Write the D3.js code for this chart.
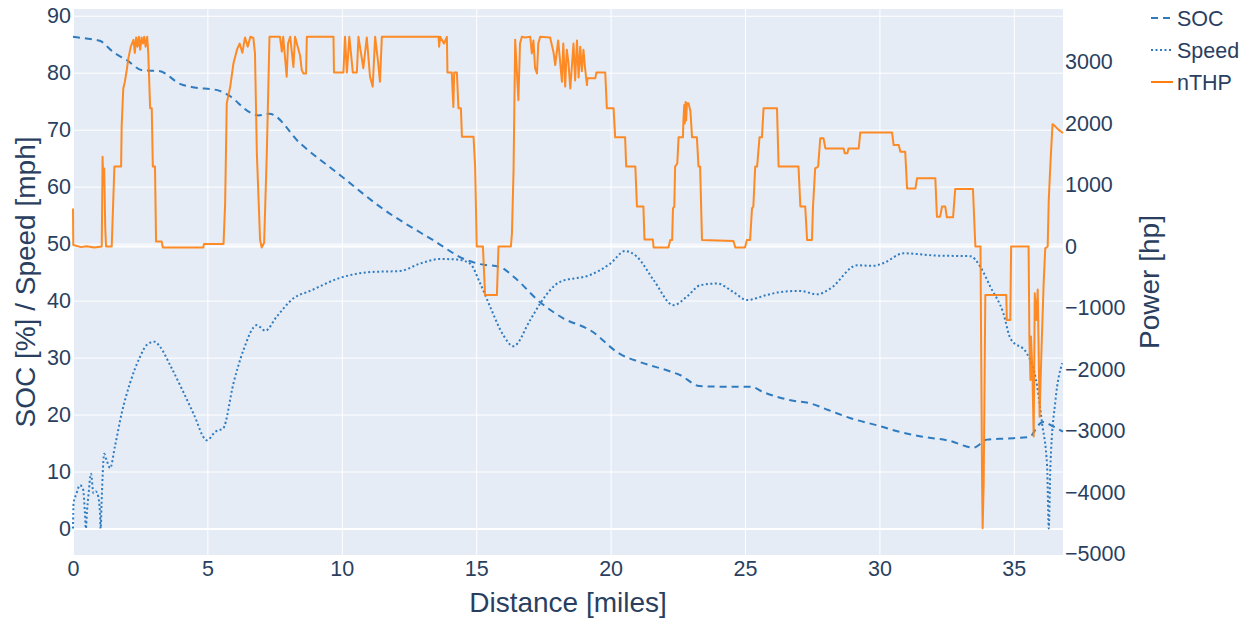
<!DOCTYPE html>
<html>
<head>
<meta charset="utf-8">
<script src="https://cdn.jsdelivr.net/npm/d3@7"></script>
<style>
  body { margin: 0; background: #fff; }
  text { font-family: "Liberation Sans", Arial, sans-serif; fill: #2a3f5f; }
</style>
</head>
<body>
<svg></svg>
<script>
// data: [miles, value]
var socData = [[0,86.3],[0.5,86.0],[1.0,85.6],[1.5,83.6],[2.0,82.2],[2.6,80.4],[3.2,80.3],[4.0,78.0],[4.4,77.5],[5.4,76.9],[5.8,76.0],[6.6,73.0],[6.9,72.5],[7.3,72.8],[8.45,67.6],[9.94,62.0],[11.5,56.2],[13.4,50.6],[14.65,47.1],[15.15,46.4],[15.89,45.9],[16.39,44.2],[17.38,39.7],[18.24,36.9],[19.24,34.8],[20.36,30.6],[21.1,29.2],[22.2,27.6],[22.6,26.9],[23.3,25.0],[24.1,24.9],[25.2,24.9],[25.7,23.9],[26.7,22.5],[27.4,22.0],[28.1,20.8],[28.9,19.4],[30.0,18.0],[30.8,16.9],[31.5,16.2],[32.6,15.4],[33.5,14.2],[34.0,15.6],[34.75,15.8],[35.6,16.1],[35.8,17.3],[35.99,18.5],[36.1,18.7],[36.47,17.9],[36.83,17.0]];

var speedData = [[0,0],[0.02,4.4],[0.12,6.0],[0.26,7.6],[0.38,6.8],[0.44,3],[0.48,0],[0.52,3],[0.57,5.6],[0.67,9.6],[0.76,6.2],[0.85,6.5],[0.94,5.6],[1.0,3],[1.03,0],[1.06,4],[1.1,9],[1.16,13.1],[1.25,12],[1.38,10.6],[1.56,14.4],[1.81,20.2],[2.12,25.5],[2.49,30.1],[2.74,32.2],[3.03,32.8],[3.24,31.9],[3.61,28.7],[4.10,24.0],[4.48,20.2],[4.98,15.5],[5.3,17.0],[5.59,17.6],[5.97,25.5],[6.34,31.3],[6.84,35.7],[7.15,34.7],[7.58,37.2],[8.20,40.4],[8.82,41.7],[9.94,44.0],[11.05,45.0],[12.17,45.2],[12.91,46.5],[13.66,47.3],[14.3,47.2],[14.77,46.5],[15.15,43.0],[15.52,38.9],[16.0,34.0],[16.38,32.0],[17.01,36.6],[17.38,39.5],[18.12,43.3],[19.24,44.5],[19.99,46.5],[20.54,48.7],[20.98,47.7],[21.60,43.6],[22.34,39.2],[22.84,40.7],[23.33,42.7],[23.96,43.0],[24.57,41.5],[25.07,40.1],[25.82,41.0],[26.31,41.5],[27.06,41.7],[27.68,41.1],[28.17,42.1],[29.17,46.2],[29.78,46.1],[30.16,46.6],[30.90,48.3],[32.14,47.9],[33.38,47.8],[33.76,45.9],[34.13,42.4],[34.61,37.8],[34.87,33.4],[35.49,30.7],[35.87,24.9],[36.05,18.5],[36.24,10.8],[36.30,0],[36.36,10.8],[36.55,22.5],[36.80,29.0]];

var powerData = [[0,620],[0.01,25],[0.3,-10],[0.5,5],[0.8,-15],[1.07,0],[1.1,1460],[1.13,1000],[1.16,1270],[1.2,300],[1.23,0],[1.44,0],[1.54,1300],[1.79,1300],[1.81,1950],[1.87,2570],[1.93,2680],[2.0,2870],[2.06,3060],[2.15,3250],[2.25,3360],[2.3,3150],[2.35,3400],[2.4,3250],[2.45,3410],[2.5,3200],[2.55,3400],[2.6,3300],[2.65,3410],[2.7,3250],[2.76,3410],[2.8,3140],[2.87,2250],[2.93,2250],[2.97,1300],[3.05,1300],[3.09,80],[3.3,80],[3.34,-15],[4.85,-15],[4.87,40],[5.6,40],[5.66,700],[5.72,2330],[5.85,2600],[5.97,2980],[6.1,3200],[6.2,3300],[6.3,3150],[6.4,3400],[6.5,3250],[6.6,3410],[6.71,3390],[6.77,3140],[6.84,1515],[6.96,105],[7.02,-15],[7.11,60],[7.21,1515],[7.31,3410],[7.70,3410],[7.77,3170],[7.82,3410],[7.95,2760],[8.0,3300],[8.08,3410],[8.2,2920],[8.26,3410],[8.45,3100],[8.51,2870],[8.57,2815],[8.67,2815],[8.70,3410],[9.69,3410],[9.71,2830],[10.06,2830],[10.12,3410],[10.19,2830],[10.28,3410],[10.41,2830],[10.56,2830],[10.62,3410],[10.8,2900],[10.93,3400],[11.05,2760],[11.15,2600],[11.24,3410],[11.35,3000],[11.42,2680],[11.49,3410],[13.6,3410],[13.62,3250],[13.66,3410],[13.8,3300],[13.91,3410],[13.93,2830],[14.09,2830],[14.15,2270],[14.18,2830],[14.28,2830],[14.34,2250],[14.43,2250],[14.47,1785],[14.9,1785],[14.96,1300],[15.02,0],[15.25,0],[15.33,-790],[15.77,-790],[15.83,0],[16.29,0],[16.33,215],[16.39,1245],[16.45,3360],[16.57,2380],[16.63,3300],[16.70,3410],[16.82,3400],[17.01,3410],[17.07,3140],[17.13,3350],[17.19,2900],[17.26,2815],[17.31,3300],[17.38,3410],[17.75,3400],[17.88,3150],[17.94,2950],[18.05,3350],[18.19,2680],[18.24,3300],[18.31,2600],[18.37,3200],[18.43,3000],[18.5,2570],[18.62,3300],[18.68,2700],[18.75,3350],[18.81,2750],[18.87,3250],[18.93,2850],[18.99,3200],[19.05,2900],[19.12,2625],[19.14,2735],[19.43,2735],[19.47,2830],[19.8,2830],[19.86,2250],[20.11,2250],[20.17,1775],[20.54,1775],[20.58,1300],[20.92,1300],[20.98,650],[21.22,650],[21.26,115],[21.57,115],[21.6,-15],[22.15,-15],[22.22,105],[22.29,105],[22.32,620],[22.37,650],[22.4,1300],[22.48,1350],[22.53,1775],[22.69,1775],[22.71,2055],[22.74,2300],[22.76,2000],[22.79,2350],[22.81,2050],[22.84,2330],[22.9,2330],[22.97,2200],[23.03,1775],[23.21,1775],[23.27,1300],[23.33,1300],[23.40,105],[24.57,90],[24.64,-15],[25.0,-15],[25.07,105],[25.19,105],[25.26,620],[25.31,650],[25.38,1300],[25.45,1300],[25.54,1775],[25.63,1775],[25.69,2250],[26.19,2250],[26.25,1300],[26.99,1300],[27.06,650],[27.24,650],[27.31,105],[27.49,105],[27.53,650],[27.61,1270],[27.72,1300],[27.80,1760],[27.92,1760],[27.99,1595],[28.67,1595],[28.71,1515],[28.81,1515],[28.85,1595],[29.23,1595],[29.29,1855],[30.47,1855],[30.53,1650],[30.72,1650],[30.78,1540],[30.96,1540],[31.03,945],[31.34,945],[31.40,1110],[32.08,1110],[32.14,485],[32.26,485],[32.33,650],[32.45,650],[32.51,475],[32.74,475],[32.82,935],[33.48,935],[33.57,0],[33.76,0],[33.82,-3850],[33.84,-4580],[33.88,-3850],[33.94,-790],[34.72,-790],[34.74,-1195],[34.87,-1195],[34.90,0],[35.55,0],[35.58,-1500],[35.62,-2170],[35.64,-1465],[35.69,-2000],[35.74,-3090],[35.78,-760],[35.84,-1195],[35.89,-700],[35.96,-2770],[35.99,-2280],[36.03,-1680],[36.11,-600],[36.17,-30],[36.26,0],[36.30,755],[36.36,1325],[36.44,1990],[36.55,1950],[36.66,1900],[36.83,1845]];

var xTicks = [0, 5, 10, 15, 20, 25, 30, 35];
var leftTicks = [0, 10, 20, 30, 40, 50, 60, 70, 80, 90];
var rightTicks = [-5000, -4000, -3000, -2000, -1000, 0, 1000, 2000, 3000];
var legendNames = ['SOC', 'Speed', 'nTHP'];

document.addEventListener('DOMContentLoaded', () => {
    var width = 1253;
    var height = 621;
    var plotLeft = 73, plotRight = 1063, plotTop = 9, plotBottom = 555;
    var tickFont = '21.5px';
    var titleFont = '28px';

    var svg = d3.select('svg')
        .attr('width', width)
        .attr('height', height);

    // scales
    var xScale = d3.scaleLinear().domain([0, 36.83]).range([plotLeft, plotRight]);
    var yLeft = d3.scaleLinear().domain([-4.65, 91.18]).range([plotBottom, plotTop]);
    var yRight = d3.scaleLinear().domain([-5016, 3862]).range([plotBottom, plotTop]);

    svg.append('rect')
        .attr('x', plotLeft).attr('y', plotTop)
        .attr('width', plotRight - plotLeft).attr('height', plotBottom - plotTop)
        .attr('fill', '#e5ecf6');

    // grid
    svg.append('g')
        .attr('transform', 'translate(0,' + plotBottom + ')')
        .call(d3.axisBottom(xScale).tickValues(xTicks).tickSize(-(plotBottom - plotTop)).tickFormat(''))
        .call(g => g.select('.domain').remove())
        .call(g => g.selectAll('line').attr('stroke', '#fff').attr('stroke-width', 1));

    svg.append('g')
        .attr('transform', 'translate(' + plotLeft + ',0)')
        .call(d3.axisLeft(yLeft).tickValues(leftTicks).tickSize(-(plotRight - plotLeft)).tickFormat(''))
        .call(g => g.select('.domain').remove())
        .call(g => g.selectAll('line').attr('stroke', '#fff').attr('stroke-width', d => d === 0 ? 2 : 1));

    // zero line of the power axis
    svg.append('line')
        .attr('x1', plotLeft).attr('x2', plotRight)
        .attr('y1', yRight(0)).attr('y2', yRight(0))
        .attr('stroke', '#fff').attr('stroke-width', 2);

    // tick labels
    svg.append('g')
        .attr('transform', 'translate(0,' + plotBottom + ')')
        .call(d3.axisBottom(xScale).tickValues(xTicks).tickSize(0).tickPadding(6))
        .call(g => g.select('.domain').remove())
        .call(g => g.selectAll('text').attr('font-size', tickFont).attr('fill', '#2a3f5f').attr('font-family', null));

    svg.append('g')
        .attr('transform', 'translate(' + plotLeft + ',0)')
        .call(d3.axisLeft(yLeft).tickValues(leftTicks).tickSize(0).tickPadding(2))
        .call(g => g.select('.domain').remove())
        .call(g => g.selectAll('text').attr('font-size', tickFont).attr('fill', '#2a3f5f').attr('font-family', null));

    svg.append('g')
        .attr('transform', 'translate(' + plotRight + ',0)')
        .call(d3.axisRight(yRight).tickValues(rightTicks).tickSize(0).tickPadding(2)
            .tickFormat(d => d3.format('d')(d).replace('-', '\u2212')))
        .call(g => g.select('.domain').remove())
        .call(g => g.selectAll('text').attr('font-size', tickFont).attr('fill', '#2a3f5f').attr('font-family', null));

    // lines
    var socLine = d3.line().x(d => xScale(d[0])).y(d => yLeft(d[1])).curve(d3.curveMonotoneX);
    var speedLine = d3.line().x(d => xScale(d[0])).y(d => yLeft(d[1])).curve(d3.curveMonotoneX);
    var powerLine = d3.line().x(d => xScale(d[0])).y(d => yRight(d[1]));

    svg.append('path')
        .datum(socData)
        .attr('d', socLine)
        .attr('fill', 'none')
        .attr('stroke', '#2f7bc0')
        .attr('stroke-width', 2)
        .attr('stroke-dasharray', '7,5');

    svg.append('path')
        .datum(speedData)
        .attr('d', speedLine)
        .attr('fill', 'none')
        .attr('stroke', '#2f7bc0')
        .attr('stroke-width', 2)
        .attr('stroke-dasharray', '2,2.5');

    svg.append('path')
        .datum(powerData)
        .attr('d', powerLine)
        .attr('fill', 'none')
        .attr('stroke', '#ff7f0e')
        .attr('stroke-width', 2)
        .attr('stroke-linejoin', 'round')
        .attr('opacity', 0.9);

    // axis titles
    svg.append('text')
        .text('Distance [miles]')
        .attr('text-anchor', 'middle')
        .attr('x', (plotLeft + plotRight) / 2)
        .attr('y', 612)
        .attr('font-size', titleFont);

    svg.append('text')
        .text('SOC [%] / Speed [mph]')
        .attr('text-anchor', 'middle')
        .attr('transform', 'translate(35,' + (plotTop + plotBottom) / 2 + ') rotate(-90)')
        .attr('font-size', titleFont);

    svg.append('text')
        .text('Power [hp]')
        .attr('text-anchor', 'middle')
        .attr('transform', 'translate(1159,' + (plotTop + plotBottom) / 2 + ') rotate(-90)')
        .attr('font-size', titleFont);

    // legend
    var dashes = ['7,5', '2,2.5', null];
    var colors = ['#2f7bc0', '#2f7bc0', '#ff7f0e'];
    var legend = svg.append('g');
    legendNames.forEach((name, i) => {
        var y = 18 + i * 32;
        legend.append('line')
            .attr('x1', 1151).attr('x2', 1173)
            .attr('y1', y).attr('y2', y)
            .attr('stroke', colors[i])
            .attr('stroke-width', 2)
            .attr('stroke-dasharray', dashes[i]);
        legend.append('text')
            .text(name)
            .attr('x', 1177)
            .attr('y', y)
            .attr('dy', '0.35em')
            .attr('font-size', tickFont);
    });
});
</script>
</body>
</html>
